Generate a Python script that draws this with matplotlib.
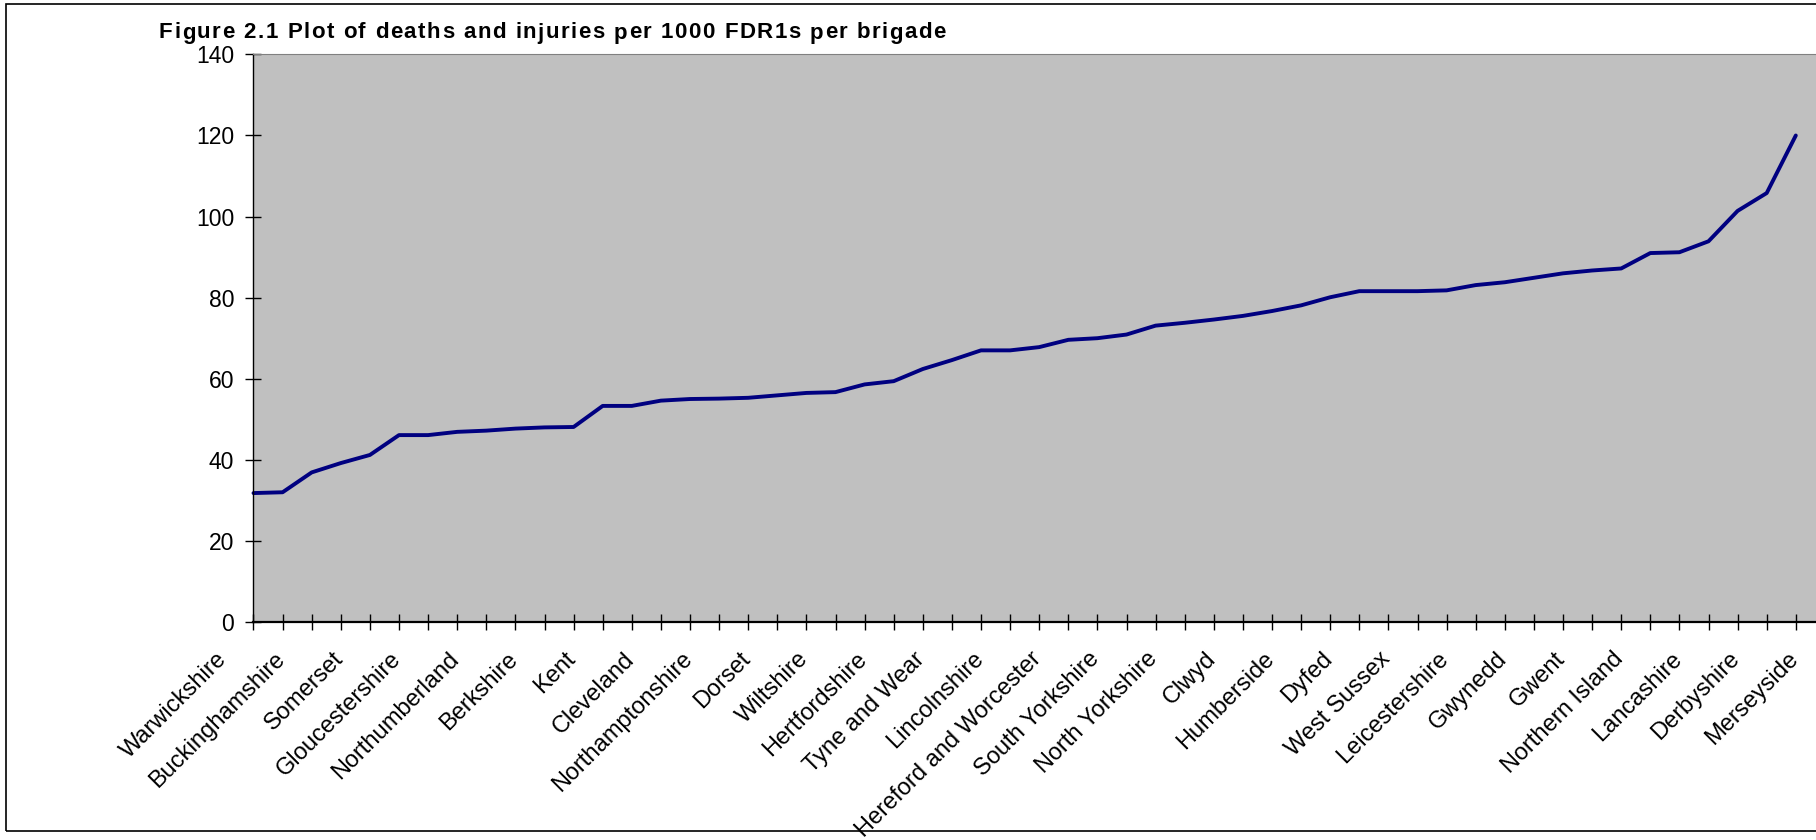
import matplotlib
matplotlib.use("Agg")
import matplotlib.pyplot as plt
from matplotlib.patches import Rectangle
from matplotlib.transforms import ScaledTranslation

plt.rcParams["font.family"] = ["Liberation Sans", "DejaVu Sans"]

# brigades named on the axis (every other category)
brigades = [
    "Warwickshire", "Buckinghamshire", "Somerset", "Gloucestershire",
    "Northumberland", "Berkshire", "Kent", "Cleveland", "Northamptonshire",
    "Dorset", "Wiltshire", "Hertfordshire", "Tyne and Wear", "Lincolnshire",
    "Hereford and Worcester", "South Yorkshire", "North Yorkshire", "Clwyd",
    "Humberside", "Dyfed", "West Sussex", "Leicestershire", "Gwynedd",
    "Gwent", "Northern Island", "Lancashire", "Derbyshire", "Merseyside",
]

# deaths and injuries per 1000 FDR1s, sorted ascending
rate = [
    31.8, 32.0, 36.9, 39.2, 41.2, 46.1, 46.1, 46.9, 47.2, 47.7,
    48.0, 48.1, 53.3, 53.3, 54.6, 55.0, 55.1, 55.3, 55.9, 56.5,
    56.7, 58.6, 59.4, 62.4, 64.6, 67.0, 67.0, 67.8, 69.6, 70.0,
    70.9, 73.1, 73.8, 74.6, 75.5, 76.7, 78.1, 80.1, 81.6, 81.6,
    81.6, 81.8, 83.1, 83.8, 84.9, 86.0, 86.7, 87.2, 91.0, 91.2,
    93.9, 101.4, 105.8, 120.0,
]

title = "Figure 2.1 Plot of deaths and injuries per 1000 FDR1s per brigade"

W, H = 1816, 840
fig = plt.figure(figsize=(W / 100, H / 100), dpi=100)

# outer chart border
fig.patches.append(Rectangle((6 / W, 9 / H), 1.2, (H - 13) / H, transform=fig.transFigure,
                             fill=False, edgecolor="black", lw=1.2))

x0, y0, ytop, step = 253.5, 622, 54.4, 29.1
right = 1840
ax = fig.add_axes([x0 / W, (H - y0) / H, (right - x0) / W, (y0 - ytop) / H])
ax.set_facecolor("#c0c0c0")

ax.plot(range(len(rate)), rate, color="#000080", lw=2.8,
        solid_capstyle="round", solid_joinstyle="round", clip_on=False)

ax.set_xlim(0, (right - x0) / step)
ax.set_ylim(0, 140)
ax.set_yticks(range(0, 141, 20))
ax.set_xticks(range(len(rate)))
ax.set_xticklabels([])
ax.tick_params(axis="both", direction="inout", length=12, width=1, color="black")
ax.tick_params(axis="y", labelsize=16.5, pad=8)

for side in ["left", "bottom"]:
    ax.spines[side].set_color("black")
ax.spines["bottom"].set_linewidth(1.6)
ax.spines["left"].set_linewidth(1.0)
ax.spines["top"].set_color("#808080")
ax.spines["right"].set_visible(False)

shift = ax.transData + ScaledTranslation(-0.38, -0.26, fig.dpi_scale_trans)
for k, name in enumerate(brigades):
    ax.text(2 * k, 0, name, rotation=45, rotation_mode="anchor", ha="right", va="top",
            fontsize=17, transform=shift, clip_on=False)

# title with a little letter spacing, set one character at a time
renderer = fig.canvas.get_renderer()
chars = [fig.text(0, 1 - 33 / H, c, fontsize=16, fontweight="bold", va="center")
         for c in title]
widths = []
for c, t in zip(title, chars):
    if c == " ":
        t.set_text("n n")
        full = t.get_window_extent(renderer).width
        t.set_text("nn")
        widths.append(full - t.get_window_extent(renderer).width)
        t.set_text(" ")
    else:
        widths.append(t.get_window_extent(renderer).width)
gap = (787 - sum(widths)) / (len(title) - 1)
xpos = 159
for t, w in zip(chars, widths):
    t.set_x(xpos / W)
    xpos += w + gap

fig.savefig("out.png", dpi=100)
